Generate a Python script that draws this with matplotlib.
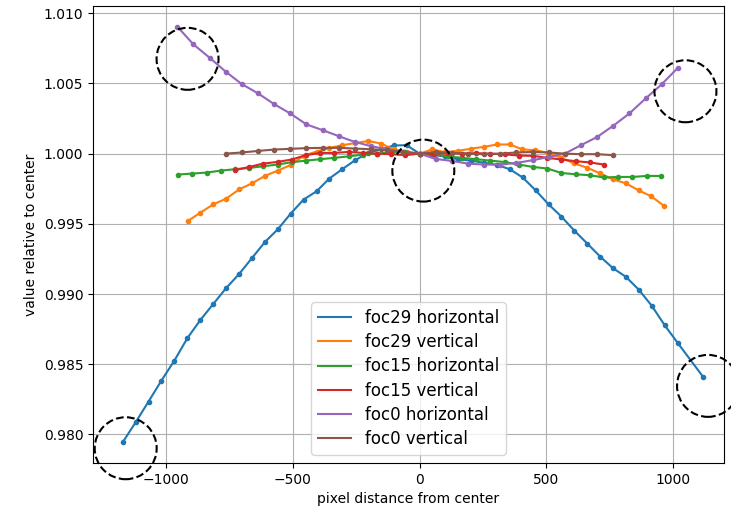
import matplotlib
matplotlib.use("Agg")
import matplotlib.pyplot as plt

# foc29 horizontal (gap near x=1069 in the original)
foc29_h_x = [-1171, -1120, -1069, -1018, -967, -916, -865, -814, -763, -712,
             -661, -610, -559, -508, -457, -406, -356, -305, -254, -203,
             -152, -102, -51, 0, 51, 102, 152, 203, 254, 305,
             356, 407, 458, 509, 560, 611, 662, 713, 764, 814,
             865, 916, 967, 1018, 1120]
foc29_h_y = [0.97944, 0.98086, 0.98234, 0.98384, 0.98526, 0.98685, 0.98814, 0.98928, 0.99042, 0.99142,
             0.99256, 0.99370, 0.99461, 0.99573, 0.99673, 0.99732, 0.99822, 0.99889, 0.99953, 1.00005,
             1.00030, 1.00058, 1.00060, 1.00000, 0.99990, 0.99980, 0.99960, 0.99950, 0.99935, 0.99920,
             0.99889, 0.99830, 0.99739, 0.99639, 0.99551, 0.99451, 0.99359, 0.99266, 0.99183, 0.99123,
             0.99031, 0.98917, 0.98778, 0.98653, 0.98407]

foc29_v_x = [-914, -864, -813, -762, -711, -660, -610, -559, -508, -457,
             -406, -356, -305, -254, -203, -152, -102, -51, 0, 51,
             102, 152, 203, 254, 305, 356, 406, 457, 508, 559,
             610, 660, 711, 762, 813, 864, 914, 965]
foc29_v_y = [0.99520, 0.99580, 0.99639, 0.99680, 0.99746, 0.99789, 0.99841, 0.99879, 0.99919, 0.99985,
             1.00015, 1.00040, 1.00060, 1.00075, 1.00090, 1.00072, 1.00030, 1.00010, 1.00000, 1.00030,
             1.00010, 1.00020, 1.00035, 1.00048, 1.00065, 1.00065, 1.00030, 1.00024, 1.00005, 0.99970,
             0.99930, 0.99901, 0.99860, 0.99817, 0.99789, 0.99739, 0.99696, 0.99627]

foc15_h_x = [-952, -896, -840, -784, -728, -672, -616, -560, -504, -448,
             -392, -336, -280, -224, -168, -112, -56, 0, 56, 112,
             168, 224, 280, 336, 392, 448, 504, 560, 616, 672,
             728, 784, 840, 896, 952]
foc15_h_y = [0.99851, 0.99858, 0.99865, 0.99879, 0.99889, 0.99898, 0.99910, 0.99922, 0.99939, 0.99950,
             0.99960, 0.99970, 0.99980, 0.99993, 1.00000, 1.00010, 1.00010, 1.00000, 0.99995, 0.99980,
             0.99970, 0.99960, 0.99950, 0.99940, 0.99922, 0.99905, 0.99894, 0.99862, 0.99853, 0.99846,
             0.99830, 0.99834, 0.99834, 0.99841, 0.99841]

foc15_v_x = [-728, -672, -616, -560, -504, -448, -392, -336, -280, -224,
             -168, -112, -56, 0, 56, 112, 168, 224, 280, 336,
             392, 448, 504, 560, 616, 672, 728]
foc15_v_y = [0.99882, 0.99905, 0.99929, 0.99941, 0.99958, 0.99989, 1.00005, 1.00005, 1.00012, 1.00005,
             1.00000, 0.99996, 0.99989, 1.00000, 0.99998, 1.00003, 1.00000, 1.00003, 1.00000, 0.99995,
             0.99986, 0.99984, 0.99970, 0.99958, 0.99946, 0.99937, 0.99922]

foc0_h_x = [-955, -892, -828, -764, -701, -637, -573, -510, -446, -382,
            -318, -255, -191, -127, -64, 0, 64, 127, 191, 255,
            318, 382, 446, 510, 573, 637, 701, 764, 828, 892,
            955, 1019]
foc0_h_y = [1.00904, 1.00778, 1.00683, 1.00583, 1.00495, 1.00429, 1.00352, 1.00286, 1.00208, 1.00167,
            1.00124, 1.00083, 1.00053, 1.00031, 1.00014, 1.00000, 0.99962, 0.99948, 0.99929, 0.99922,
            0.99922, 0.99934, 0.99953, 0.99976, 1.00000, 1.00060, 1.00119, 1.00198, 1.00286, 1.00393,
            1.00493, 1.00611]

foc0_v_x = [-764, -701, -637, -573, -510, -446, -382, -318, -255, -191,
            -127, -64, 0, 64, 127, 191, 255, 318, 382, 446,
            510, 573, 637, 701, 764]
foc0_v_y = [1.00000, 1.00008, 1.00019, 1.00029, 1.00034, 1.00039, 1.00041, 1.00041, 1.00036, 1.00031,
            1.00024, 1.00012, 1.00000, 1.00012, 1.00005, 1.00000, 0.99996, 1.00000, 1.00008, 1.00012,
            1.00008, 1.00000, 0.99996, 0.99996, 0.99989]

series = [
    (foc29_h_x, foc29_h_y, "foc29 horizontal"),
    (foc29_v_x, foc29_v_y, "foc29 vertical"),
    (foc15_h_x, foc15_h_y, "foc15 horizontal"),
    (foc15_v_x, foc15_v_y, "foc15 vertical"),
    (foc0_h_x, foc0_h_y, "foc0 horizontal"),
    (foc0_v_x, foc0_v_y, "foc0 vertical"),
]

# dashed circles marking the corners and the center
circle_x = [-1159, -915, 15, 1049, 1138]
circle_y = [0.97902, 1.00675, 0.99879, 1.00444, 0.98346]

fig, ax = plt.subplots(figsize=(7.31, 5.15), dpi=100)
fig.subplots_adjust(left=0.1272, right=0.9904, top=0.9883, bottom=0.101)

for i, (xs, ys, name) in enumerate(series):
    c = f"C{i}"
    ax.plot(xs, ys, "-", color=c, label=name)
    ax.plot(xs, ys, ".", color=c)  # markers kept out of the legend

ax.scatter(circle_x, circle_y, s=1990, facecolors="none", edgecolors="k",
           linewidths=1.5, linestyles="--", clip_on=False, zorder=5)

ax.set_xlim(-1288, 1201)
ax.set_ylim(0.97797, 1.01051)
ax.grid(True)
ax.set_xlabel("pixel distance from center")
ax.set_ylabel("value relative to center")
ax.legend(loc="lower center", fontsize=12, labelspacing=0.37)

plt.savefig("out.png", dpi=100)
